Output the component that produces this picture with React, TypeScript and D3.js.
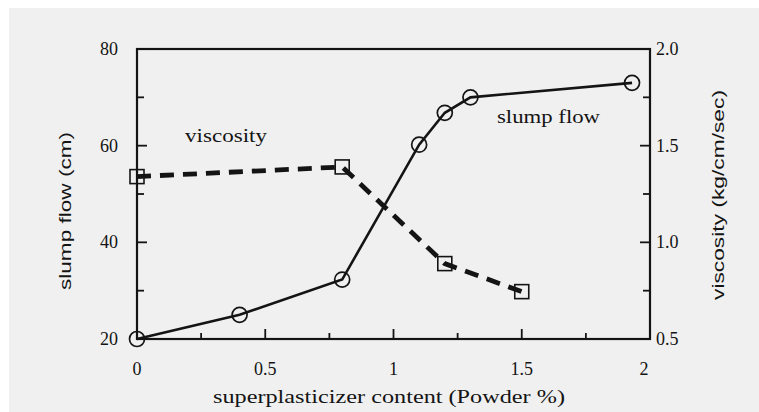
import React from "react";
import * as d3 from "d3";

const slumpX = [0, 0.4, 0.8, 1.1, 1.2, 1.3, 1.93];
const slumpY = [20, 25, 32.3, 60.2, 66.8, 70, 73];
const viscX = [0, 0.8, 1.2, 1.5];
const viscY = [1.34, 1.39, 0.89, 0.745];
const xTicks = [0, 0.5, 1, 1.5, 2];
const xTickLabels = ["0", "0.5", "1", "1.5", "2"];
const xMinor = [0.25, 0.75, 1.25, 1.75];
const leftTicks = [20, 40, 60, 80];
const leftMinor = [30, 50, 70];
const rightTicks = [0.5, 1.0, 1.5, 2.0];
const rightTickLabels = ["0.5", "1.0", "1.5", "2.0"];
const rightMinor = [0.75, 1.25, 1.75];

const W = 759, H = 412;
const L = 137, R = 650, T = 49, B = 339;

export default function App() {
  const x = d3.scaleLinear().domain([0, 2]).range([L, R]);
  const yL = d3.scaleLinear().domain([20, 80]).range([B, T]);
  const yR = d3.scaleLinear().domain([0.5, 2.0]).range([B, T]);
  const serif = "Liberation Serif";
  const sans = "Liberation Sans";
  const ink = "#141414";

  const slumpPts = slumpX.map((v, i) => [x(v), yL(slumpY[i])] as [number, number]);
  const viscPts = viscX.map((v, i) => [x(v), yR(viscY[i])] as [number, number]);
  const line = d3.line();

  return (
    <svg width={W} height={H} style={{ position: "absolute", left: 0, top: 0 }}>
      <rect x={0} y={0} width={W} height={H} fill="#ffffff" />
      <rect x={9} y={8} width={W - 9} height={H - 8} fill="#f0f0f0" />

      <rect x={L} y={T} width={R - L} height={B - T} fill="none" stroke={ink} strokeWidth={2.2} />

      {xTicks.map((t) => (
        <line key={"xt" + t} x1={x(t)} x2={x(t)} y1={B} y2={B - 10} stroke={ink} strokeWidth={1.8} />
      ))}
      {xMinor.map((t) => (
        <line key={"xm" + t} x1={x(t)} x2={x(t)} y1={B} y2={B - 6} stroke={ink} strokeWidth={1.8} />
      ))}
      {xTicks.map((t, i) => (
        <text key={"xl" + t} x={x(t) - (t === 2 ? 6 : 0)} y={375} textAnchor="middle" fontFamily={serif} fontSize={18} fill={ink}>
          {xTickLabels[i]}
        </text>
      ))}

      {leftTicks.map((t) => (
        <line key={"lt" + t} x1={L} x2={L + 10} y1={yL(t)} y2={yL(t)} stroke={ink} strokeWidth={1.8} />
      ))}
      {leftMinor.map((t) => (
        <line key={"lm" + t} x1={L} x2={L + 7} y1={yL(t)} y2={yL(t)} stroke={ink} strokeWidth={1.8} />
      ))}
      {leftTicks.map((t) => (
        <text key={"ll" + t} x={118} y={yL(t) + 6} textAnchor="end" fontFamily={serif} fontSize={18} fill={ink}>
          {t}
        </text>
      ))}

      {rightTicks.map((t) => (
        <line key={"rt" + t} x1={R} x2={R - 10} y1={yR(t)} y2={yR(t)} stroke={ink} strokeWidth={1.8} />
      ))}
      {rightMinor.map((t) => (
        <line key={"rm" + t} x1={R} x2={R - 7} y1={yR(t)} y2={yR(t)} stroke={ink} strokeWidth={1.8} />
      ))}
      {rightTicks.map((t, i) => (
        <text key={"rl" + t} x={656} y={yR(t) + 6} textAnchor="start" fontFamily={serif} fontSize={18} fill={ink}>
          {rightTickLabels[i]}
        </text>
      ))}

      <path d={line(viscPts) || ""} fill="none" stroke={ink} strokeWidth={4.8} strokeDasharray="14 9" />
      {viscPts.map((p, i) => (
        <rect key={"vs" + i} x={p[0] - 7} y={p[1] - 7} width={14} height={14} fill="none" stroke={ink} strokeWidth={1.6} />
      ))}

      <path d={line(slumpPts) || ""} fill="none" stroke={ink} strokeWidth={2.6} />
      {slumpPts.map((p, i) => (
        <circle key={"sc" + i} cx={p[0]} cy={p[1]} r={7.5} fill="none" stroke={ink} strokeWidth={1.7} />
      ))}

      <text x={185} y={142} fontFamily={serif} fontSize={19} fill={ink} textLength={82} lengthAdjust="spacingAndGlyphs">viscosity</text>
      <text x={497} y={123} fontFamily={serif} fontSize={19} fill={ink} textLength={103} lengthAdjust="spacingAndGlyphs">slump flow</text>

      <text x={389} y={403} textAnchor="middle" fontFamily={serif} fontSize={19} fill={ink} textLength={352} lengthAdjust="spacingAndGlyphs">
        superplasticizer content (Powder %)
      </text>
      <text transform={`translate(71,211) rotate(-90)`} textAnchor="middle" fontFamily={sans} fontSize={17} fill={ink} textLength={158} lengthAdjust="spacingAndGlyphs">
        slump flow (cm)
      </text>
      <text transform={`translate(724,195) rotate(-90)`} textAnchor="middle" fontFamily={sans} fontSize={17} fill={ink} textLength={210} lengthAdjust="spacingAndGlyphs">
        viscosity (kg/cm/sec)
      </text>
    </svg>
  );
}
